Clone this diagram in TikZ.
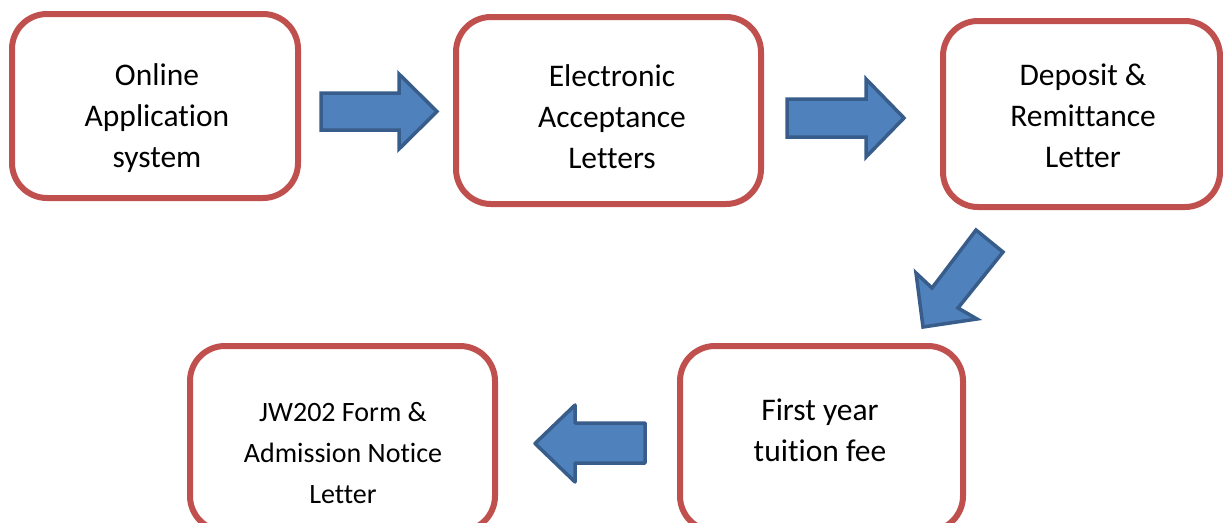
\documentclass[tikz,border=0pt]{standalone}
\usepackage{fontspec}
\setmainfont{Carlito}[Ligatures={NoCommon,NoContextual}]
\definecolor{boxred}{HTML}{C0504D}
\definecolor{arrowfill}{HTML}{4F81BD}
\definecolor{arrowline}{HTML}{385D8A}
\tikzset{
    stepbox/.style={draw=boxred, line width=6pt, rounded corners=35pt, inner sep=0pt},
    boxtext/.style={align=center, inner sep=0pt, font=\fontsize{31.5}{41}\selectfont},
    smalltext/.style={align=center, inner sep=0pt, font=\fontsize{28}{41}\selectfont},
    blockarrow/.style={fill=arrowfill, draw=arrowline, line width=3.5pt, line join=miter}
}
\begin{document}
\begin{tikzpicture}[x=1pt, y=-1pt]
    \useasboundingbox (0,0) rectangle (1223,522);

    % Boxes of the admission steps
    \node[stepbox, minimum width=286, minimum height=184] (apply) at (155, 106) {};
    \node[stepbox, minimum width=305, minimum height=187] (accept) at (608.5, 110.5) {};
    \node[stepbox, minimum width=277, minimum height=186] (deposit) at (1081.5, 114) {};
    \node[stepbox, minimum width=283, minimum height=185] (tuition) at (821.5, 438.5) {};
    \node[stepbox, minimum width=305, minimum height=185] (notice) at (342.5, 438.5) {};

    % Texts in the boxes
    \node[boxtext] (apply-txt) at (157, 118) {Online\\Application\\system};
    \node[boxtext] (accept-txt) at (612, 117) {Electronic\\Acceptance\\Letters};
    \node[boxtext] (deposit-txt) at (1083, 116) {Deposit \&\\Remittance\\Letter};
    \node[boxtext] (tuition-txt) at (820, 430) {First year\\tuition fee};
    \node[smalltext] (notice-txt) at (343, 453) {JW202 Form \&\\Admission Notice\\Letter};

    % Block arrows between the steps
    \draw[blockarrow] (321,93) -- (399,93) -- (399,74) -- (437,111.5) -- (399,149) -- (399,130) -- (321,130) -- cycle;
    \draw[blockarrow] (787,99) -- (866,99) -- (866,79) -- (904,118) -- (866,157) -- (866,137) -- (787,137) -- cycle;
    \draw[blockarrow] (976,230) -- (1003,252) -- (958,308) -- (977,319) -- (923,327) -- (916,273) -- (932,288) -- cycle;
    \draw[blockarrow, line join=round] (645,423) -- (575,423) -- (575,405) -- (535,443.5) -- (575,482) -- (575,463) -- (645,463) -- cycle;
\end{tikzpicture}
\end{document}
